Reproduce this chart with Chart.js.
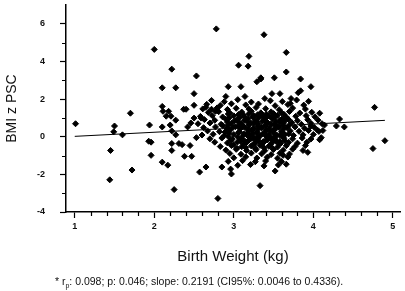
<!DOCTYPE html>
<html>
<head>
<meta charset="utf-8">
<script src="https://cdn.jsdelivr.net/npm/chart.js@4.4.1/dist/chart.umd.min.js"></script>
<style>
  body { margin: 0; background: #fff; }
  #wrap { position: relative; width: 405px; height: 291px; }
  #note {
    position: absolute; left: 0; top: 275px; width: 398px;
    text-align: center; font: 10.5px "Liberation Sans", Arial, sans-serif; color: #111;
  }
  #note sub { font-size: 7px; }
</style>
</head>
<body>
<div id="wrap">
  <canvas id="graphique" width="405" height="291"></canvas>
  <div id="note">* r<sub>p</sub>: 0.098; p: 0.046; slope: 0.2191 (CI95%: 0.0046 to 0.4336).</div>
</div>
<script>
// points isolés : [poids de naissance, BMI z]
const outliers = [
  [1.01,0.69],[1.50,0.57],[1.49,0.26],[1.60,0.10],[1.45,-0.73],[1.44,-2.29],[1.72,-1.77],[1.70,1.25],
  [2.00,4.64],[2.78,5.73],[2.22,3.59],[2.53,3.23],[2.10,2.60],[2.27,2.60],[2.50,2.29],[2.10,1.61],
  [2.50,1.67],[2.11,1.35],[2.18,1.35],[2.37,1.46],[2.40,1.46],[2.65,1.56],[2.72,1.46],[2.77,1.35],
  [2.93,2.66],[3.09,2.66],[3.18,3.75],[3.06,3.80],[3.19,4.27],[3.29,2.92],[3.34,3.13],[2.90,2.14],
  [3.14,2.14],[3.39,2.03],[3.38,5.42],[3.66,4.48],[3.66,3.44],[3.34,3.07],[3.51,3.13],[3.84,3.07],
  [3.97,2.66],[3.94,1.88],[4.08,1.25],[4.33,0.94],[4.77,1.56],[3.48,2.29],[3.58,2.29],[3.81,2.34],
  [3.84,2.44],[3.72,2.03],[3.71,1.77],[4.39,0.52],[4.29,0.57],[4.14,0.62],[4.90,-0.21],[4.75,-0.63],
  [4.08,-0.16],[4.10,-0.05],[3.97,0.57],[3.87,-0.73],[3.93,-0.83],[3.62,-0.99],[3.66,-1.46],[3.52,-1.82],
  [3.33,-2.60],[4.12,0.33],[4.05,0.36],
  [2.25,-2.81],[2.80,-3.28],[2.10,-1.35],[2.17,-1.51],[1.96,-0.99],[2.57,-1.88],[2.65,-1.61],[2.38,-1.04],
  [2.47,-1.04],[2.22,-0.36],[2.22,-0.73],[2.31,-0.36],[2.35,-0.42],[2.45,-0.47],[2.10,0.52],[2.20,0.62],
  [2.27,0.10],[2.22,0.31],[2.27,0.88],[2.42,0.52],[2.46,0.73],[2.50,0.99],[2.53,-0.05],[2.59,0.99],
  [2.15,1.09],[2.21,1.09],[2.96,-1.72],[1.94,0.62],[1.93,-0.24],[1.96,-0.29],[2.85,-1.61],[2.97,-1.98]
];

// nuage central
const cluster = [
  [2.72,1.93],[2.88,1.86],[3.05,1.97],[3.22,1.84],[3.46,1.91],[3.61,1.87],[3.79,1.95],
  [2.66,1.72],[2.83,1.66],[2.97,1.75],[3.15,1.69],[3.31,1.74],[3.52,1.65],[3.68,1.71],[3.88,1.68],
  [2.61,1.48],[2.79,1.53],[2.92,1.45],[3.03,1.51],[3.19,1.47],[3.28,1.55],[3.40,1.49],[3.57,1.44],[3.74,1.52],[3.90,1.47],
  [2.68,1.29],[2.81,1.33],[2.95,1.26],[3.10,1.31],[3.22,1.35],[3.34,1.27],[3.47,1.32],[3.60,1.28],[3.70,1.34],[3.83,1.26],[3.98,1.30],
  [2.58,1.08],[2.73,1.12],[2.86,1.05],[3.00,1.11],[3.13,1.07],[3.25,1.13],[3.36,1.06],[3.44,1.10],[3.55,1.14],[3.66,1.05],[3.78,1.09],[3.91,1.12],[4.02,1.06],
  [2.63,0.91],[2.76,0.87],[2.90,0.93],[3.04,0.88],[3.16,0.92],[3.27,0.86],[3.38,0.90],[3.49,0.94],[3.58,0.87],[3.69,0.91],[3.80,0.85],[3.93,0.90],[4.06,0.88],
  [2.55,0.69],[2.70,0.73],[2.84,0.66],[2.97,0.71],[3.09,0.68],[3.21,0.74],[3.31,0.67],[3.42,0.72],[3.52,0.65],[3.62,0.70],[3.73,0.74],[3.85,0.66],[3.97,0.71],[4.11,0.69],
  [2.62,0.48],[2.77,0.52],[2.91,0.46],[3.02,0.53],[3.14,0.49],[3.25,0.45],[3.35,0.51],[3.45,0.47],[3.56,0.54],[3.67,0.48],[3.77,0.52],[3.89,0.45],[4.01,0.50],
  [2.67,0.31],[2.82,0.27],[2.95,0.33],[3.07,0.28],[3.19,0.32],[3.29,0.26],[3.40,0.30],[3.50,0.34],[3.60,0.27],[3.71,0.31],[3.82,0.29],[3.94,0.33],[4.07,0.28],
  [2.60,0.09],[2.74,0.13],[2.88,0.07],[3.00,0.12],[3.12,0.08],[3.23,0.14],[3.33,0.06],[3.44,0.11],[3.54,0.09],[3.64,0.13],[3.75,0.07],[3.87,0.10],[4.00,0.12],
  [2.70,-0.11],[2.85,-0.07],[2.98,-0.13],[3.10,-0.09],[3.21,-0.12],[3.31,-0.06],[3.42,-0.10],[3.52,-0.14],[3.63,-0.08],[3.74,-0.11],[3.86,-0.07],[3.97,-0.12],
  [2.76,-0.29],[2.92,-0.33],[3.05,-0.27],[3.16,-0.31],[3.27,-0.35],[3.38,-0.28],[3.48,-0.32],[3.58,-0.26],[3.69,-0.30],[3.80,-0.34],[3.92,-0.29],
  [2.83,-0.52],[2.97,-0.47],[3.10,-0.53],[3.22,-0.49],[3.33,-0.46],[3.44,-0.51],[3.55,-0.55],[3.66,-0.48],[3.77,-0.52],[3.90,-0.47],
  [2.90,-0.71],[3.03,-0.67],[3.16,-0.73],[3.28,-0.69],[3.39,-0.74],[3.50,-0.68],[3.62,-0.72],[3.74,-0.66],
  [2.95,-0.89],[3.09,-0.93],[3.22,-0.87],[3.35,-0.91],[3.47,-0.95],[3.58,-0.88],[3.70,-0.92],
  [3.00,-1.12],[3.15,-1.07],[3.29,-1.13],[3.42,-1.09],[3.55,-1.14],[3.68,-1.08],
  [2.93,-1.31],[3.11,-1.27],[3.27,-1.33],[3.40,-1.29],[3.60,-1.32],
  [3.05,-1.52],[3.21,-1.48],[3.38,-1.55],[3.56,-1.50],
  // coeur plus dense
  [2.93,1.21],[3.06,1.18],[3.19,1.22],[3.30,1.17],[3.41,1.20],[3.50,1.23],[3.63,1.19],
  [2.94,0.99],[3.07,1.02],[3.18,0.97],[3.31,1.01],[3.40,0.98],[3.52,1.03],[3.61,0.96],
  [2.92,0.78],[3.05,0.82],[3.17,0.79],[3.29,0.81],[3.42,0.77],[3.53,0.80],[3.64,0.83],
  [2.93,0.62],[3.06,0.58],[3.19,0.61],[3.30,0.57],[3.40,0.60],[3.51,0.63],[3.62,0.59],
  [2.95,0.39],[3.08,0.42],[3.18,0.38],[3.31,0.41],[3.41,0.37],[3.52,0.40],[3.63,0.43],
  [2.94,0.18],[3.06,0.22],[3.17,0.19],[3.29,0.21],[3.39,0.17],[3.50,0.20],[3.61,0.23],
  [2.93,0.01],[3.05,-0.02],[3.18,0.03],[3.30,-0.01],[3.41,0.02],[3.51,-0.03],[3.62,0.00],
  [2.96,-0.19],[3.08,-0.22],[3.19,-0.18],[3.31,-0.21],[3.42,-0.17],[3.53,-0.23],[3.64,-0.20],
  [3.00,-0.41],[3.12,-0.38],[3.24,-0.42],[3.35,-0.39],[3.46,-0.43],[3.57,-0.40],
  [3.04,-0.61],[3.15,-0.58],[3.27,-0.62],[3.38,-0.59],[3.49,-0.63],
  [3.12,1.15],[3.24,1.04],[3.36,1.16],[3.47,1.02],[3.13,0.86],[3.25,0.70],[3.36,0.82],[3.47,0.68],
  [3.58,0.76],[3.12,0.55],[3.23,0.36],[3.35,0.47],[3.46,0.30],[3.57,0.49],[3.13,0.15],[3.24,0.03],
  [3.36,0.14],[3.47,-0.05],[3.58,0.06],[3.14,-0.24],[3.26,-0.14],[3.37,-0.26],[3.48,-0.16],[3.59,-0.35],
  [2.99,0.50],[3.01,0.85],[3.70,0.62],[3.69,0.15],[2.89,0.25],[2.86,0.60]
];

// droite de régression
const fitX = [1.0, 4.9];
const fitY = [0.02, 0.87];

// graduations
const xTicks = [1, 2, 3, 4, 5];
const xMinorTicks = [1.2, 1.4, 1.6, 1.8, 2.2, 2.4, 2.6, 2.8, 3.2, 3.4, 3.6, 3.8, 4.2, 4.4, 4.6, 4.8];
const yTicks = [-4, -2, 0, 2, 4, 6];
const yMinorTicks = [-3, -1, 1, 3, 5];

const police = '"Liberation Sans", Arial, sans-serif';

// petites graduations dessinées via les échelles
const minorTicksPlugin = {
  id: 'minorTicks',
  afterDraw(chart) {
    const ctx = chart.ctx;
    const x = chart.scales.x, y = chart.scales.y;
    ctx.save();
    ctx.strokeStyle = '#000';
    ctx.lineWidth = 1.2;
    ctx.beginPath();
    xMinorTicks.forEach(v => {
      const px = Math.round(x.getPixelForValue(v)) + 0.5;
      ctx.moveTo(px, x.top);
      ctx.lineTo(px, x.top + 4);
    });
    yMinorTicks.forEach(v => {
      const py = Math.round(y.getPixelForValue(v)) + 0.5;
      ctx.moveTo(y.right, py);
      ctx.lineTo(y.right - 4, py);
    });
    ctx.stroke();
    ctx.restore();
  }
};

const ctx = document.getElementById('graphique').getContext('2d');
new Chart(ctx, {
  type: 'scatter',
  data: {
    datasets: [
      {
        type: 'line',
        data: fitX.map((v, i) => ({ x: v, y: fitY[i] })),
        borderColor: '#000',
        borderWidth: 1,
        pointRadius: 0,
        fill: false
      },
      {
        data: outliers.concat(cluster).map(p => ({ x: p[0], y: p[1] })),
        pointStyle: 'rectRot',
        pointRadius: 3,
        backgroundColor: '#000',
        borderColor: '#000',
        borderWidth: 1
      }
    ]
  },
  plugins: [minorTicksPlugin],
  options: {
    responsive: false,
    animation: false,
    layout: { padding: { top: 1, right: 2, bottom: 25, left: 0 } },
    plugins: { legend: { display: false }, tooltip: { enabled: false } },
    scales: {
      x: {
        type: 'linear',
        min: 0.89,
        max: 5.09,
        afterBuildTicks: s => { s.ticks = xTicks.map(v => ({ value: v })); },
        afterFit: s => { s.height = 54; s.paddingLeft = 0; s.paddingRight = 0; },
        border: { display: true, color: '#000', width: 1.5 },
        grid: { drawOnChartArea: false, drawTicks: true, tickLength: 6, tickColor: '#000', tickWidth: 1.2 },
        ticks: { color: '#111', padding: 3, font: { family: police, size: 9, weight: 'bold' } },
        title: { display: true, text: 'Birth Weight (kg)', color: '#111', padding: { top: 0, bottom: 0 }, font: { family: police, size: 15 } }
      },
      y: {
        type: 'linear',
        min: -4,
        max: 7,
        afterBuildTicks: s => { s.ticks = yTicks.map(v => ({ value: v })); },
        afterFit: s => { s.width = 66; s.paddingTop = 0; s.paddingBottom = 0; },
        border: { display: true, color: '#000', width: 1.5 },
        grid: { drawOnChartArea: false, drawTicks: true, tickLength: 6, tickColor: '#000', tickWidth: 1.2 },
        ticks: { color: '#111', padding: 15, font: { family: police, size: 9, weight: 'bold' } },
        title: { display: true, text: 'BMI z PSC', color: '#111', padding: { top: 4, bottom: 0 }, font: { family: police, size: 14 } }
      }
    }
  }
});
</script>
</body>
</html>
